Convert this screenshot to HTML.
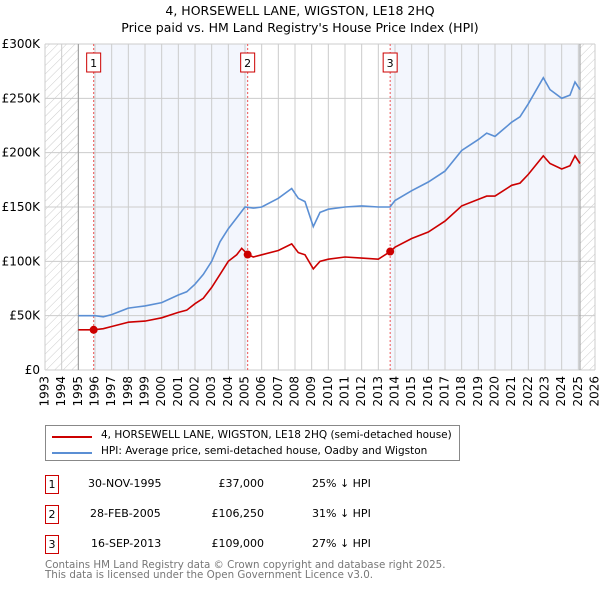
<!DOCTYPE html>
<html><head><meta charset="utf-8"><style>
body{margin:0;background:#fff;font-family:"DejaVu Sans","Liberation Sans",sans-serif;}
#wrap{position:relative;width:600px;height:590px;overflow:hidden}
.t{position:absolute;font-size:11px;color:#000;white-space:nowrap}
.r{text-align:right}
.box{position:absolute;width:14px;height:19px;border:1px solid #c00;font-size:11px;text-align:center;line-height:17px;box-sizing:border-box}
</style></head><body><div id="wrap">
<div class="t" style="left:0;width:600px;text-align:center;top:3px;font-size:12.5px">4, HORSEWELL LANE, WIGSTON, LE18 2HQ</div>
<div class="t" style="left:0;width:600px;text-align:center;top:20px;font-size:12.5px">Price paid vs. HM Land Registry's House Price Index (HPI)</div>
<svg id="svg" width="600" height="420" style="position:absolute;left:0;top:0">
<defs><pattern id="hatch" width="6" height="6" patternUnits="userSpaceOnUse" patternTransform="rotate(45)"><line x1="0" y1="0" x2="0" y2="6" stroke="#ccc" stroke-width="1"/></pattern></defs>
</svg>
<div style="position:absolute;left:45px;top:425px;width:415px;height:36px;border:1px solid #888;box-sizing:border-box">
<div style="position:absolute;left:6px;top:10px;width:40px;height:2px;background:#c00"></div>
<div class="t" style="left:55px;top:3px;font-size:10.5px">4, HORSEWELL LANE, WIGSTON, LE18 2HQ (semi-detached house)</div>
<div style="position:absolute;left:6px;top:26px;width:40px;height:2px;background:#5b8fd4"></div>
<div class="t" style="left:55px;top:19px;font-size:10.5px">HPI: Average price, semi-detached house, Oadby and Wigston</div>
</div>
<div>
<div class="box" style="left:45px;top:475px">1</div>
<div class="t" style="left:88px;top:477px">30-NOV-1995</div>
<div class="t r" style="left:164px;width:100px;top:477px">£37,000</div>
<div class="t" style="left:312px;top:477px">25% ↓ HPI</div>
<div class="box" style="left:45px;top:505px">2</div>
<div class="t" style="left:90px;top:507px">28-FEB-2005</div>
<div class="t r" style="left:164px;width:100px;top:507px">£106,250</div>
<div class="t" style="left:312px;top:507px">31% ↓ HPI</div>
<div class="box" style="left:45px;top:535px">3</div>
<div class="t" style="left:91px;top:537px">16-SEP-2013</div>
<div class="t r" style="left:164px;width:100px;top:537px">£109,000</div>
<div class="t" style="left:312px;top:537px">27% ↓ HPI</div>
</div>
<div class="t" style="left:45px;top:560px;font-size:10.3px;color:#777;line-height:10px">Contains HM Land Registry data © Crown copyright and database right 2025.<br>This data is licensed under the Open Government Licence v3.0.</div>
</div>
<script>
const hpiYears=[1995,1996,1996.5,1997,1998,1998.5,1999,2000,2001,2001.5,2002,2002.5,2003,2003.5,2004,2004.5,2005,2005.5,2006,2007,2007.8,2008.2,2008.6,2009.1,2009.5,2010,2011,2012,2013,2013.7,2014,2015,2016,2017,2018,2019,2019.5,2020,2021,2021.5,2022,2022.9,2023.3,2024,2024.5,2024.8,2025.1];
const hpiValues=[50,50,49,51,57,58,59,62,69,72,79,88,100,118,130,140,150,149,150,158,167,158,155,132,145,148,150,151,150,150,156,165,173,183,202,212,218,215,228,233,245,269,258,250,253,265,258];
const redYears=[1995,1995.92,1996.5,1997,1998,1999,2000,2001,2001.5,2002,2002.5,2003,2003.5,2004,2004.5,2004.8,2005.16,2005.5,2006,2007,2007.8,2008.2,2008.6,2009.1,2009.5,2010,2011,2012,2013,2013.71,2014,2015,2016,2017,2018,2019,2019.5,2020,2021,2021.5,2022,2022.9,2023.3,2024,2024.5,2024.8,2025.1];
const redValues=[37,37,38,40,44,45,48,53,55,61,66,76,88,100,106,112,106.25,104,106,110,116,108,106,93,100,102,104,103,102,109,113,121,127,137,151,157,160,160,170,172,180,197,190,185,188,197,190];
const saleYears=[1995.92,2005.16,2013.71];
const saleValues=[37,106.25,109];
const yTicks=[0,50,100,150,200,250,300];
const yTickLabels=["£0","£50K","£100K","£150K","£200K","£250K","£300K"];
const xTicks=[];for(let y=1993;y<=2026;y++)xTicks.push(y);
const X0=45,X1=595,Y0=370,Y1=44;
const xs=y=>X0+(y-1993)*(X1-X0)/33;
const ys=v=>Y0-v*(Y0-Y1)/300;
const svg=document.getElementById('svg');const NS='http://www.w3.org/2000/svg';
function mk(tag,attrs,name){const e=document.createElementNS(NS,tag);for(const k in attrs)e.setAttribute(k,attrs[k]);


svg.appendChild(e);return e;}
mk('rect',{x:X0,y:Y1,width:X1-X0,height:Y0-Y1,fill:'#fff'},'plot-background');
mk('rect',{x:xs(saleYears[0]),y:Y1,width:xs(saleYears[1])-xs(saleYears[0]),height:Y0-Y1,fill:'#f3f6fd'},'band-sale1-sale2');
mk('rect',{x:xs(saleYears[2]),y:Y1,width:xs(2025.1)-xs(saleYears[2]),height:Y0-Y1,fill:'#f3f6fd'},'band-sale3-now');
mk('rect',{x:X0,y:Y1,width:xs(1995)-X0,height:Y0-Y1,fill:'url(#hatch)'},'hatch-pre-data');
mk('rect',{x:xs(2025.1),y:Y1,width:X1-xs(2025.1),height:Y0-Y1,fill:'url(#hatch)'},'hatch-post-data');
xTicks.forEach(y=>{mk('line',{x1:xs(y),x2:xs(y),y1:Y1,y2:Y0,stroke:'#ccc'},'x-gridline');
const t=mk('text',{x:0,y:0,'font-size':12,'text-anchor':'end','dominant-baseline':'middle',transform:`translate(${xs(y)},376) rotate(-90)`,'font-family':'DejaVu Sans, sans-serif'},'x-tick-label');t.textContent=y;});
yTicks.forEach((v,i)=>{mk('line',{x1:X0,x2:X1,y1:ys(v),y2:ys(v),stroke:'#ccc'},'y-gridline');
const t=mk('text',{x:40,y:ys(v)+4,'font-size':12,'text-anchor':'end','font-family':'DejaVu Sans, sans-serif'},'y-tick-label');t.textContent=yTickLabels[i];});
mk('line',{x1:xs(1995),x2:xs(1995),y1:Y1,y2:Y0,stroke:'#999'},'data-start-line');
mk('line',{x1:xs(2025.1),x2:xs(2025.1),y1:Y1,y2:Y0,stroke:'#999'},'data-end-line');
saleYears.forEach((y,i)=>{mk('line',{x1:xs(y),x2:xs(y),y1:Y1,y2:Y0,stroke:'#e55','stroke-dasharray':'2,2'},'sale-line');
mk('rect',{x:xs(y)-7,y:53,width:14,height:19,fill:'#fff',stroke:'#c00'},'sale-label-box');
const t=mk('text',{x:xs(y),y:67,'font-size':11,'text-anchor':'middle','font-family':'DejaVu Sans, sans-serif'},'sale-label');t.textContent=i+1;});
const path=(a,b)=>a.map((y,i)=>(i?'L':'M')+xs(y).toFixed(1)+','+ys(b[i]).toFixed(1)).join('');
mk('path',{d:path(hpiYears,hpiValues),fill:'none',stroke:'#5b8fd4','stroke-width':1.6},'hpi-line');
mk('path',{d:path(redYears,redValues),fill:'none',stroke:'#c00','stroke-width':1.6},'property-line');
saleYears.forEach((y,i)=>mk('circle',{cx:xs(y),cy:ys(saleValues[i]),r:4,fill:'#c00'},'sale-point'));
</script></body></html>
